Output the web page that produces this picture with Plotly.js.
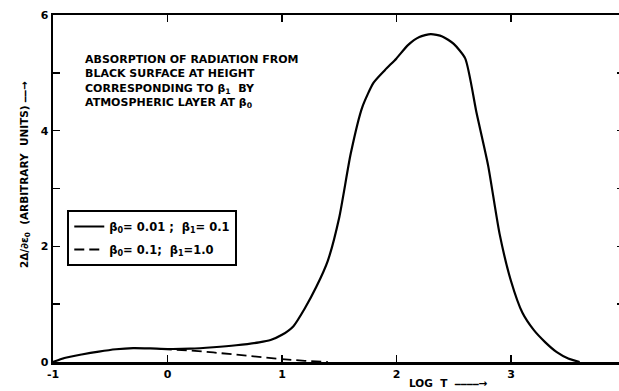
<!DOCTYPE html>
<html>
<head>
<meta charset="utf-8">
<script src="https://cdn.plot.ly/plotly-3.0.1.min.js"></script>
<style>
html,body{margin:0;padding:0;overflow:hidden;background:#fff;}
#chart{width:630px;height:391px;}
</style>
</head>
<body>
<div id="chart"></div>
<script>
// Solid curve: beta0 = 0.01, beta1 = 0.1
const logT_solid = [-1, -0.9, -0.75, -0.6, -0.45, -0.3, -0.15, 0, 0.2, 0.4, 0.6, 0.8, 0.9, 1.0, 1.1, 1.2, 1.3, 1.4, 1.5, 1.6, 1.7, 1.8, 1.9, 2.0, 2.1, 2.2, 2.3, 2.4, 2.5, 2.6, 2.7, 2.8, 2.9, 3.0, 3.1, 3.2, 3.3, 3.4, 3.5, 3.6];
const absorb_solid = [0, 0.07, 0.13, 0.18, 0.22, 0.24, 0.235, 0.225, 0.23, 0.255, 0.29, 0.34, 0.38, 0.47, 0.62, 0.93, 1.3, 1.75, 2.5, 3.6, 4.4, 4.83, 5.05, 5.25, 5.48, 5.62, 5.67, 5.63, 5.5, 5.25, 4.3, 3.4, 2.22, 1.4, 0.85, 0.55, 0.34, 0.17, 0.06, 0];
// Dashed curve: beta0 = 0.1, beta1 = 1.0
const logT_dashed = [-0.05, 0.2, 0.4, 0.6, 0.8, 1.0, 1.2, 1.4];
const absorb_dashed = [0.225, 0.2, 0.165, 0.125, 0.085, 0.05, 0.02, 0];

const xTickVals = [-1, 0, 1, 2, 3];
const xTickText = ['-1', '0', '1', '2', '3'];
const yTickVals = [0, 1, 2, 3, 4, 5, 6];
const yTickText = ['0', '', '2', '', '4', '', '6'];

const legendSolid = 'β<sub>0</sub>= 0.01 ;  β<sub>1</sub>= 0.1';
const legendDashed = 'β<sub>0</sub>= 0.1;  β<sub>1</sub>=1.0';
const noteText = 'ABSORPTION OF RADIATION FROM<br>BLACK SURFACE AT HEIGHT<br>CORRESPONDING TO β<sub>1</sub>  BY<br>ATMOSPHERIC LAYER AT β<sub>0</sub>';
const yTitle = '2Δ/∂ε<sub>0</sub>  (ARBITRARY  UNITS) ⎯⎯→';
const xTitle = 'LOG  T  ⎯⎯⎯⎯→';

const traces = [
  {x: logT_solid, y: absorb_solid, mode: 'lines', name: legendSolid, legendgroup: 'a',
   line: {color: '#000', width: 2.2, shape: 'spline', smoothing: 0.6}},
  {x: logT_dashed, y: absorb_dashed, mode: 'lines', name: legendDashed, legendgroup: 'b',
   line: {color: '#000', width: 1.8, dash: '10px,5px'}}
];

const fontFam = 'DejaVu Sans, sans-serif';
const layout = {
  width: 630, height: 391,
  margin: {l: 53, r: 6, t: 15, b: 29},
  paper_bgcolor: '#fff', plot_bgcolor: '#fff',
  font: {family: fontFam, size: 11, color: '#000', weight: 'bold'},
  showlegend: true,
  legend: {x: 0.025, y: 0.438, xanchor: 'left', yanchor: 'top',
    bordercolor: '#000', borderwidth: 2, bgcolor: '#fff',
    font: {family: fontFam, size: 11.5, color: '#000', weight: 'bold'},
    traceorder: 'grouped', tracegroupgap: 4, itemwidth: 30},
  xaxis: {range: [-1, 3.987], showgrid: false, zeroline: false,
    showline: true, linecolor: '#000', linewidth: 2.5, mirror: 'ticks',
    ticks: 'inside', ticklen: 7, tickwidth: 1.5, tickcolor: '#000',
    tickvals: xTickVals, ticktext: xTickText,
    tickfont: {family: fontFam, size: 11, color: '#000', weight: 'bold'}},
  yaxis: {range: [0, 6], showgrid: false, zeroline: false,
    showline: true, linecolor: '#000', linewidth: 2.5, mirror: 'ticks',
    ticks: 'inside', ticklen: 7, tickwidth: 1.5, tickcolor: '#000',
    tickvals: yTickVals, ticktext: yTickText,
    tickfont: {family: fontFam, size: 11, color: '#000', weight: 'bold'}},
  annotations: [
    {text: noteText, xref: 'paper', yref: 'paper', x: 0.0525, y: 0.897,
     xanchor: 'left', yanchor: 'top', align: 'left', showarrow: false,
     font: {family: fontFam, size: 11, color: '#000', weight: 'bold'}},
    {text: yTitle, xref: 'paper', yref: 'paper', x: -0.05, y: 0.54,
     xanchor: 'center', yanchor: 'middle', textangle: -90, showarrow: false,
     font: {family: fontFam, size: 10.5, color: '#000', weight: 'bold'}},
    {text: xTitle, xref: 'paper', yref: 'paper', x: 0.62, y: -0.061,
     xanchor: 'left', yanchor: 'middle', showarrow: false,
     font: {family: fontFam, size: 10.5, color: '#000', weight: 'bold'}}
  ]
};

Plotly.newPlot('chart', traces, layout, {displayModeBar: false, staticPlot: true});
</script>
</body>
</html>
